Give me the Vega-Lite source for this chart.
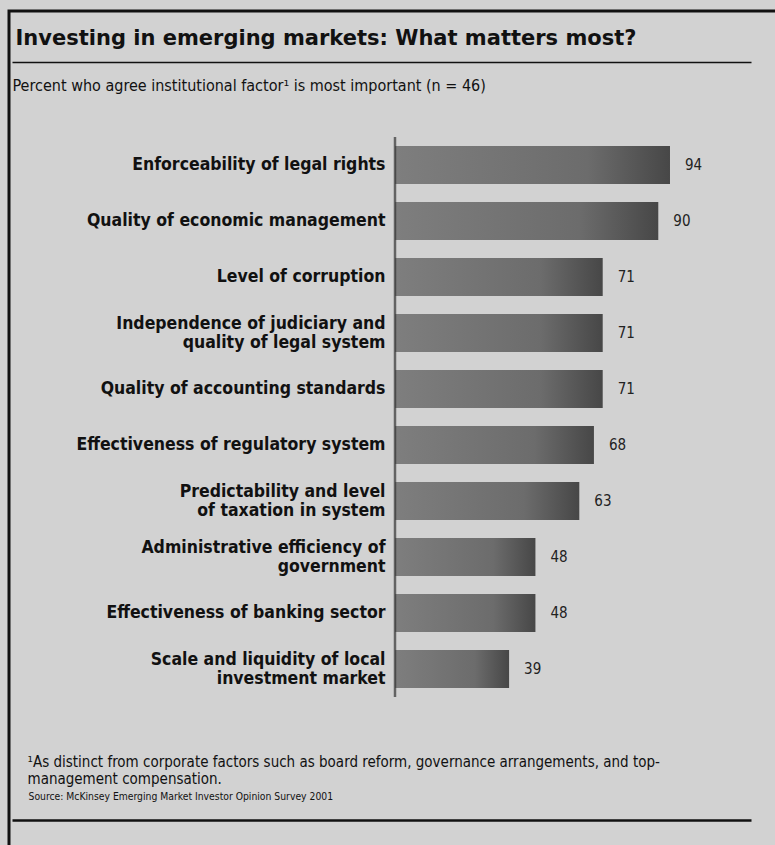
{
  "$schema": "https://vega.github.io/schema/vega-lite/v6.json",
  "width": 766,
  "height": 834,
  "autosize": {"type": "none"},
  "padding": {"left": 9, "top": 11, "right": 0, "bottom": 0},
  "background": "#d2d2d2",
  "config": {
    "view": {"stroke": "#111111", "strokeWidth": 3, "strokeDash": [766, 1600, 834]},
    "font": "DejaVu Sans Condensed"
  },
  "data": {
    "values": [
      {"factor": "Enforceability of legal rights", "value": 94},
      {"factor": "Quality of economic management", "value": 90},
      {"factor": "Level of corruption", "value": 71},
      {"factor": "Independence of judiciary and\nquality of legal system", "value": 71},
      {"factor": "Quality of accounting standards", "value": 71},
      {"factor": "Effectiveness of regulatory system", "value": 68},
      {"factor": "Predictability and level\nof taxation in system", "value": 63},
      {"factor": "Administrative efficiency of\ngovernment", "value": 48},
      {"factor": "Effectiveness of banking sector", "value": 48},
      {"factor": "Scale and liquidity of local\ninvestment market", "value": 39}
    ]
  },
  "layer": [
    {
      "mark": {
        "type": "bar",
        "color": {
          "gradient": "linear", "x1": 0, "y1": 0, "x2": 1, "y2": 0,
          "stops": [
            {"offset": 0, "color": "#7e7e7e"},
            {"offset": 0.7, "color": "#6c6c6c"},
            {"offset": 1, "color": "#474747"}
          ]
        }
      },
      "encoding": {
        "y": {
          "field": "factor", "type": "nominal", "sort": null,
          "scale": {"range": [126, 686], "paddingInner": 0.32, "paddingOuter": 0.16, "round": false},
          "axis": {
            "orient": "left", "offset": -386, "domain": false, "ticks": false,
            "labelPadding": 10, "labelFontSize": 17.5, "labelFontWeight": "bold",
            "labelColor": "#111111", "labelLineHeight": 19, "labelLimit": 400,
            "labelExpr": "split(datum.label, '\\n')",
            "labelOffset": {"condition": {"test": "indexof(datum.value, '\\n') >= 0", "value": -9.5}, "value": 0},
            "title": "Percent who agree institutional factor¹ is most important (n = 46)",
            "titleAngle": 0, "titleX": -383, "titleY": 74, "titleAlign": "left",
            "titleBaseline": "middle", "titleFontSize": 16, "titleFontWeight": "normal",
            "titleColor": "#111111"
          }
        },
        "x": {
          "field": "value", "type": "quantitative",
          "scale": {"domain": [-130.92, 121.69], "range": [3, 742], "zero": false, "nice": false},
          "axis": {
            "orient": "bottom", "offset": -25, "domain": true, "domainColor": "#111111",
            "domainWidth": 2.5, "labels": false, "ticks": false, "grid": false,
            "title": ["¹As distinct from corporate factors such as board reform, governance arrangements, and top-", "  management compensation."],
            "titleX": 18, "titleY": -66, "titleAlign": "left", "titleBaseline": "top",
            "titleFontSize": 15, "titleFontWeight": "normal", "titleLineHeight": 17,
            "titleColor": "#111111"
          }
        },
        "x2": {"datum": 0}
      }
    },
    {
      "mark": {"type": "text", "align": "left", "baseline": "middle", "dx": 15, "fontSize": 15, "color": "#222222"},
      "encoding": {
        "y": {
          "field": "factor", "type": "nominal", "sort": null,
          "scale": {"range": [126, 686], "paddingInner": 0.32, "paddingOuter": 0.16, "round": false},
          "axis": {
            "orient": "right", "domain": false, "ticks": false, "labels": false,
            "title": "Source: McKinsey Emerging Market Investor Opinion Survey 2001",
            "titleAngle": 0, "titleX": -747, "titleY": 785, "titleAlign": "left",
            "titleBaseline": "middle", "titleFontSize": 10.3, "titleFontWeight": "normal",
            "titleColor": "#111111"
          }
        },
        "x": {
          "field": "value", "type": "quantitative",
          "scale": {"domain": [-130.92, 121.69], "range": [3, 742], "zero": false, "nice": false},
          "axis": {
            "orient": "top", "offset": -51, "domain": true, "domainColor": "#111111",
            "domainWidth": 1.5, "labels": false, "ticks": false, "grid": false,
            "title": "Investing in emerging markets: What matters most?",
            "titleX": 6, "titleY": -24, "titleAlign": "left", "titleBaseline": "middle",
            "titleFont": "DejaVu Sans", "titleFontSize": 21, "titleFontWeight": "bold",
            "titleColor": "#111111"
          }
        },
        "text": {"field": "value", "type": "quantitative", "format": "d"}
      }
    },
    {
      "mark": {"type": "tick", "orient": "vertical", "size": 56, "thickness": 2.5, "color": "#333333"},
      "encoding": {
        "y": {"field": "factor", "type": "nominal", "sort": null, "axis": null},
        "x": {"datum": 0, "type": "quantitative", "axis": null}
      }
    }
  ],
  "resolve": {"axis": {"x": "independent", "y": "independent"}}
}
